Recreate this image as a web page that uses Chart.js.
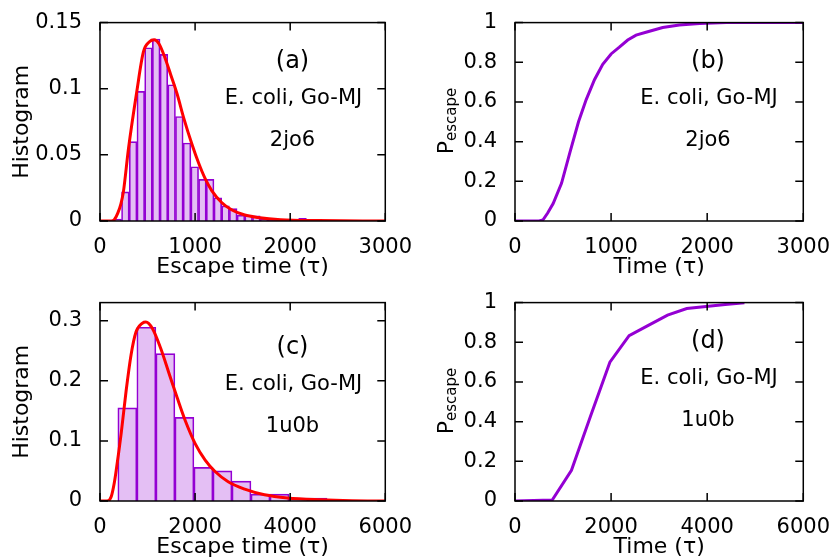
<!DOCTYPE html>
<html>
<head>
<meta charset="utf-8">
<script src="https://cdn.jsdelivr.net/npm/chart.js@4.4.1/dist/chart.umd.min.js"></script>
<style>
  body { margin: 0; background: #fff; width: 836px; height: 559px; overflow: hidden; position: relative; }
  .panel { position: absolute; width: 418px; height: 280px; }
</style>
</head>
<body>
<div class="panel" style="left:0;top:0"><canvas id="histA"></canvas></div>
<div class="panel" style="left:418px;top:0"><canvas id="cumB"></canvas></div>
<div class="panel" style="left:0;top:280px"><canvas id="histC"></canvas></div>
<div class="panel" style="left:418px;top:280px"><canvas id="cumD"></canvas></div>
<script>
// 2jo6: escape-time histogram (bin centres in tau) and fitted curve
const binsA = [186, 267, 348, 429, 510, 591, 672, 753, 834, 915, 996, 1077, 1158, 1239, 1320, 1401, 1482, 1563, 1644, 1725, 1806, 1887, 1968, 2049, 2130];
const histA = [0.0015, 0.022, 0.060, 0.098, 0.131, 0.1376, 0.126, 0.103, 0.079, 0.059, 0.041, 0.0315, 0.0315, 0.0176, 0.0114, 0.0094, 0.0045, 0.004, 0.004, 0.0015, 0.001, 0.0008, 0.0005, 0.0005, 0.002];
const fitTimeA = [0, 120, 150, 187, 220, 246, 300, 385, 457, 520, 569, 620, 680, 742, 811, 880, 967, 1036, 1106, 1175, 1279, 1383, 1522, 1660, 1900, 2300, 3000];
const fitA = [0, 0, 0.001, 0.006, 0.013, 0.022, 0.055, 0.097, 0.128, 0.1355, 0.137, 0.134, 0.124, 0.111, 0.096, 0.078, 0.058, 0.044, 0.032, 0.023, 0.014, 0.0085, 0.0045, 0.0027, 0.001, 0.0003, 0];

// 2jo6: cumulative escape probability
const timeB = [0, 250, 290, 340, 397, 484, 571, 661, 741, 827, 913, 1000, 1086, 1173, 1260, 1381, 1537, 1710, 1921, 2200, 3000];
const pEscB = [0, 0, 0.005, 0.04, 0.088, 0.19, 0.345, 0.50, 0.612, 0.712, 0.79, 0.842, 0.876, 0.912, 0.937, 0.954, 0.975, 0.988, 0.995, 1.0, 1.0];

// 1u0b: escape-time histogram and fitted curve
const binsC = [575, 975, 1375, 1775, 2175, 2575, 2975, 3375, 3775, 4175, 4575];
const histC = [0.155, 0.289, 0.245, 0.139, 0.056, 0.050, 0.033, 0.0115, 0.0115, 0.005, 0.005];
const fitTimeC = [0, 150, 237, 300, 341, 445, 549, 653, 757, 894, 964, 1102, 1276, 1449, 1622, 1796, 2004, 2212, 2420, 2696, 3043, 3459, 3944, 4636, 5300, 6000];
const fitC = [0, 0, 0.0075, 0.03, 0.051, 0.112, 0.183, 0.243, 0.281, 0.296, 0.2977, 0.287, 0.254, 0.213, 0.172, 0.133, 0.095, 0.068, 0.049, 0.032, 0.0197, 0.0103, 0.005, 0.002, 0.0005, 0];

// 1u0b: cumulative escape probability
const timeD = [0, 775, 1175, 1575, 1975, 2375, 2775, 3175, 3575, 3975, 4375, 4775];
const pEscD = [0, 0.005, 0.155, 0.43, 0.70, 0.833, 0.885, 0.937, 0.970, 0.980, 0.990, 0.999];

// tick values and their labels
const ticksX3000 = [0, 1000, 2000, 3000];
const ticksX6000 = [0, 2000, 4000, 6000];
const ticksHistA = [0, 0.05, 0.1, 0.15];
const labelsHistA = ['0', '0.05', '0.1', '0.15'];
const ticksHistC = [0, 0.1, 0.2, 0.3];
const labelsHistC = ['0', '0.1', '0.2', '0.3'];
const ticksProb = [0, 0.2, 0.4, 0.6, 0.8, 1];
const labelsProb = ['0', '0.2', '0.4', '0.6', '0.8', '1'];

const VIOLET = '#9400d3';
const FONT = 'DejaVu Sans';

Chart.defaults.font.family = FONT;
Chart.defaults.color = '#000';

const points = (xs, ys) => xs.map((x, i) => ({ x: x, y: ys[i] }));

// gnuplot-like box: frame, inward ticks on all four sides, text labels
const gnuplotFrame = {
    id: 'gnuplotFrame',
    afterDatasetsDraw(chart, args, opts) {
        const { ctx, chartArea: a, scales: { x, y } } = chart;
        ctx.save();
        ctx.strokeStyle = '#000';
        ctx.lineWidth = 1.5;
        ctx.beginPath();
        x.ticks.forEach(t => {
            const px = x.getPixelForValue(t.value);
            ctx.moveTo(px, a.bottom); ctx.lineTo(px, a.bottom - 8);
            ctx.moveTo(px, a.top); ctx.lineTo(px, a.top + 8);
        });
        y.ticks.forEach(t => {
            const py = y.getPixelForValue(t.value);
            ctx.moveTo(a.left, py); ctx.lineTo(a.left + 8, py);
            ctx.moveTo(a.right, py); ctx.lineTo(a.right - 8, py);
        });
        ctx.stroke();
        ctx.strokeRect(a.left, a.top, a.width, a.height);

        ctx.fillStyle = '#000';
        ctx.textAlign = 'center';
        ctx.textBaseline = 'middle';
        (opts.notes || []).forEach(n => {
            ctx.font = n.size + 'px "' + FONT + '"';
            ctx.fillText(n.text, n.x, n.y);
        });

        // P_escape axis title with a subscript
        if (opts.pTitle) {
            const t = opts.pTitle;
            ctx.translate(t.x, t.y);
            ctx.rotate(-Math.PI / 2);
            ctx.textAlign = 'left';
            ctx.textBaseline = 'alphabetic';
            ctx.font = '22px "' + FONT + '"';
            const wP = ctx.measureText('P').width;
            ctx.font = '15px "' + FONT + '"';
            const wE = ctx.measureText('escape').width;
            const start = -(wP + wE) / 2;
            ctx.font = '22px "' + FONT + '"';
            ctx.fillText('P', start, 0);
            ctx.font = '15px "' + FONT + '"';
            ctx.fillText('escape', start + wP, 3);
        }
        ctx.restore();
    }
};

function makeAxes(xTicks, xMax, xTitle, yTicks, yLabels, yMax, yTitle, yWidth) {
    return {
        x: {
            type: 'linear',
            min: 0,
            max: xMax,
            offset: false,
            grid: { display: false, offset: false },
            border: { display: false },
            afterBuildTicks: s => { s.ticks = xTicks.map(v => ({ value: v })); },
            afterFit: s => { s.height = 59; },
            ticks: { font: { size: 21 }, padding: 6, maxRotation: 0, autoSkip: false, callback: v => String(v) },
            title: { display: true, text: xTitle, font: { size: 22 }, padding: { top: 0, bottom: 0 } }
        },
        y: {
            min: 0,
            max: yMax,
            grid: { display: false },
            border: { display: false },
            afterBuildTicks: s => { s.ticks = yTicks.map(v => ({ value: v })); },
            afterFit: s => { s.width = yWidth; },
            ticks: { font: { size: 21 }, padding: 10, autoSkip: false, callback: (v, i) => yLabels[i] },
            title: { display: !!yTitle, text: yTitle, font: { size: 22 }, padding: { top: 9, bottom: 0 } }
        }
    };
}

function notes(tag, name, x, y) {
    return [
        { text: tag, x: x, y: y, size: 24 },
        { text: 'E. coli, Go-MJ', x: x + 1, y: y + 37, size: 21 },
        { text: name, x: x, y: y + 79, size: 21 }
    ];
}

function histChart(id, bins, hist, fitT, fit, xTicks, xMax, yTicks, yLabels, yMax, tag, name, noteY) {
    return new Chart(document.getElementById(id), {
        type: 'bar',
        data: {
            datasets: [
                {
                    type: 'line',
                    data: points(fitT, fit),
                    borderColor: '#ff0000',
                    borderWidth: 3,
                    pointRadius: 0,
                    cubicInterpolationMode: 'monotone'
                },
                {
                    type: 'bar',
                    data: points(bins, hist),
                    backgroundColor: 'rgba(148, 0, 211, 0.25)',
                    borderColor: VIOLET,
                    borderWidth: 1,
                    borderSkipped: 'start',
                    barPercentage: 1,
                    categoryPercentage: 1
                }
            ]
        },
        options: {
            responsive: true,
            maintainAspectRatio: false,
            animation: false,
            layout: { padding: { top: 19, right: 29, left: 0, bottom: 0 } },
            scales: makeAxes(xTicks, xMax, 'Escape time (τ)', yTicks, yLabels, yMax, 'Histogram', 100),
            plugins: {
                legend: { display: false },
                tooltip: { enabled: false },
                gnuplotFrame: { notes: notes(tag, name, 292.5, noteY) }
            }
        },
        plugins: [gnuplotFrame]
    });
}

function cumChart(id, times, probs, xTicks, xMax, tag, name, noteY) {
    return new Chart(document.getElementById(id), {
        type: 'line',
        data: {
            datasets: [{
                data: points(times, probs),
                borderColor: VIOLET,
                borderWidth: 3,
                pointRadius: 0,
                tension: 0
            }]
        },
        options: {
            responsive: true,
            maintainAspectRatio: false,
            animation: false,
            layout: { padding: { top: 20, right: 32, left: 0, bottom: 0 } },
            scales: makeAxes(xTicks, xMax, 'Time (τ)', ticksProb, labelsProb, 1, '', 97),
            plugins: {
                legend: { display: false },
                tooltip: { enabled: false },
                gnuplotFrame: {
                    notes: notes(tag, name, 290, noteY),
                    pTitle: { x: 35, y: 121 }
                }
            }
        },
        plugins: [gnuplotFrame]
    });
}

histChart('histA', binsA, histA, fitTimeA, fitA, ticksX3000, 3000, ticksHistA, labelsHistA, 0.15, '(a)', '2jo6', 62);
cumChart('cumB', timeB, pEscB, ticksX3000, 3000, '(b)', '2jo6', 62);
histChart('histC', binsC, histC, fitTimeC, fitC, ticksX6000, 6000, ticksHistC, labelsHistC, 0.33, '(c)', '1u0b', 68);
cumChart('cumD', timeD, pEscD, ticksX6000, 6000, '(d)', '1u0b', 62);
</script>
</body>
</html>
